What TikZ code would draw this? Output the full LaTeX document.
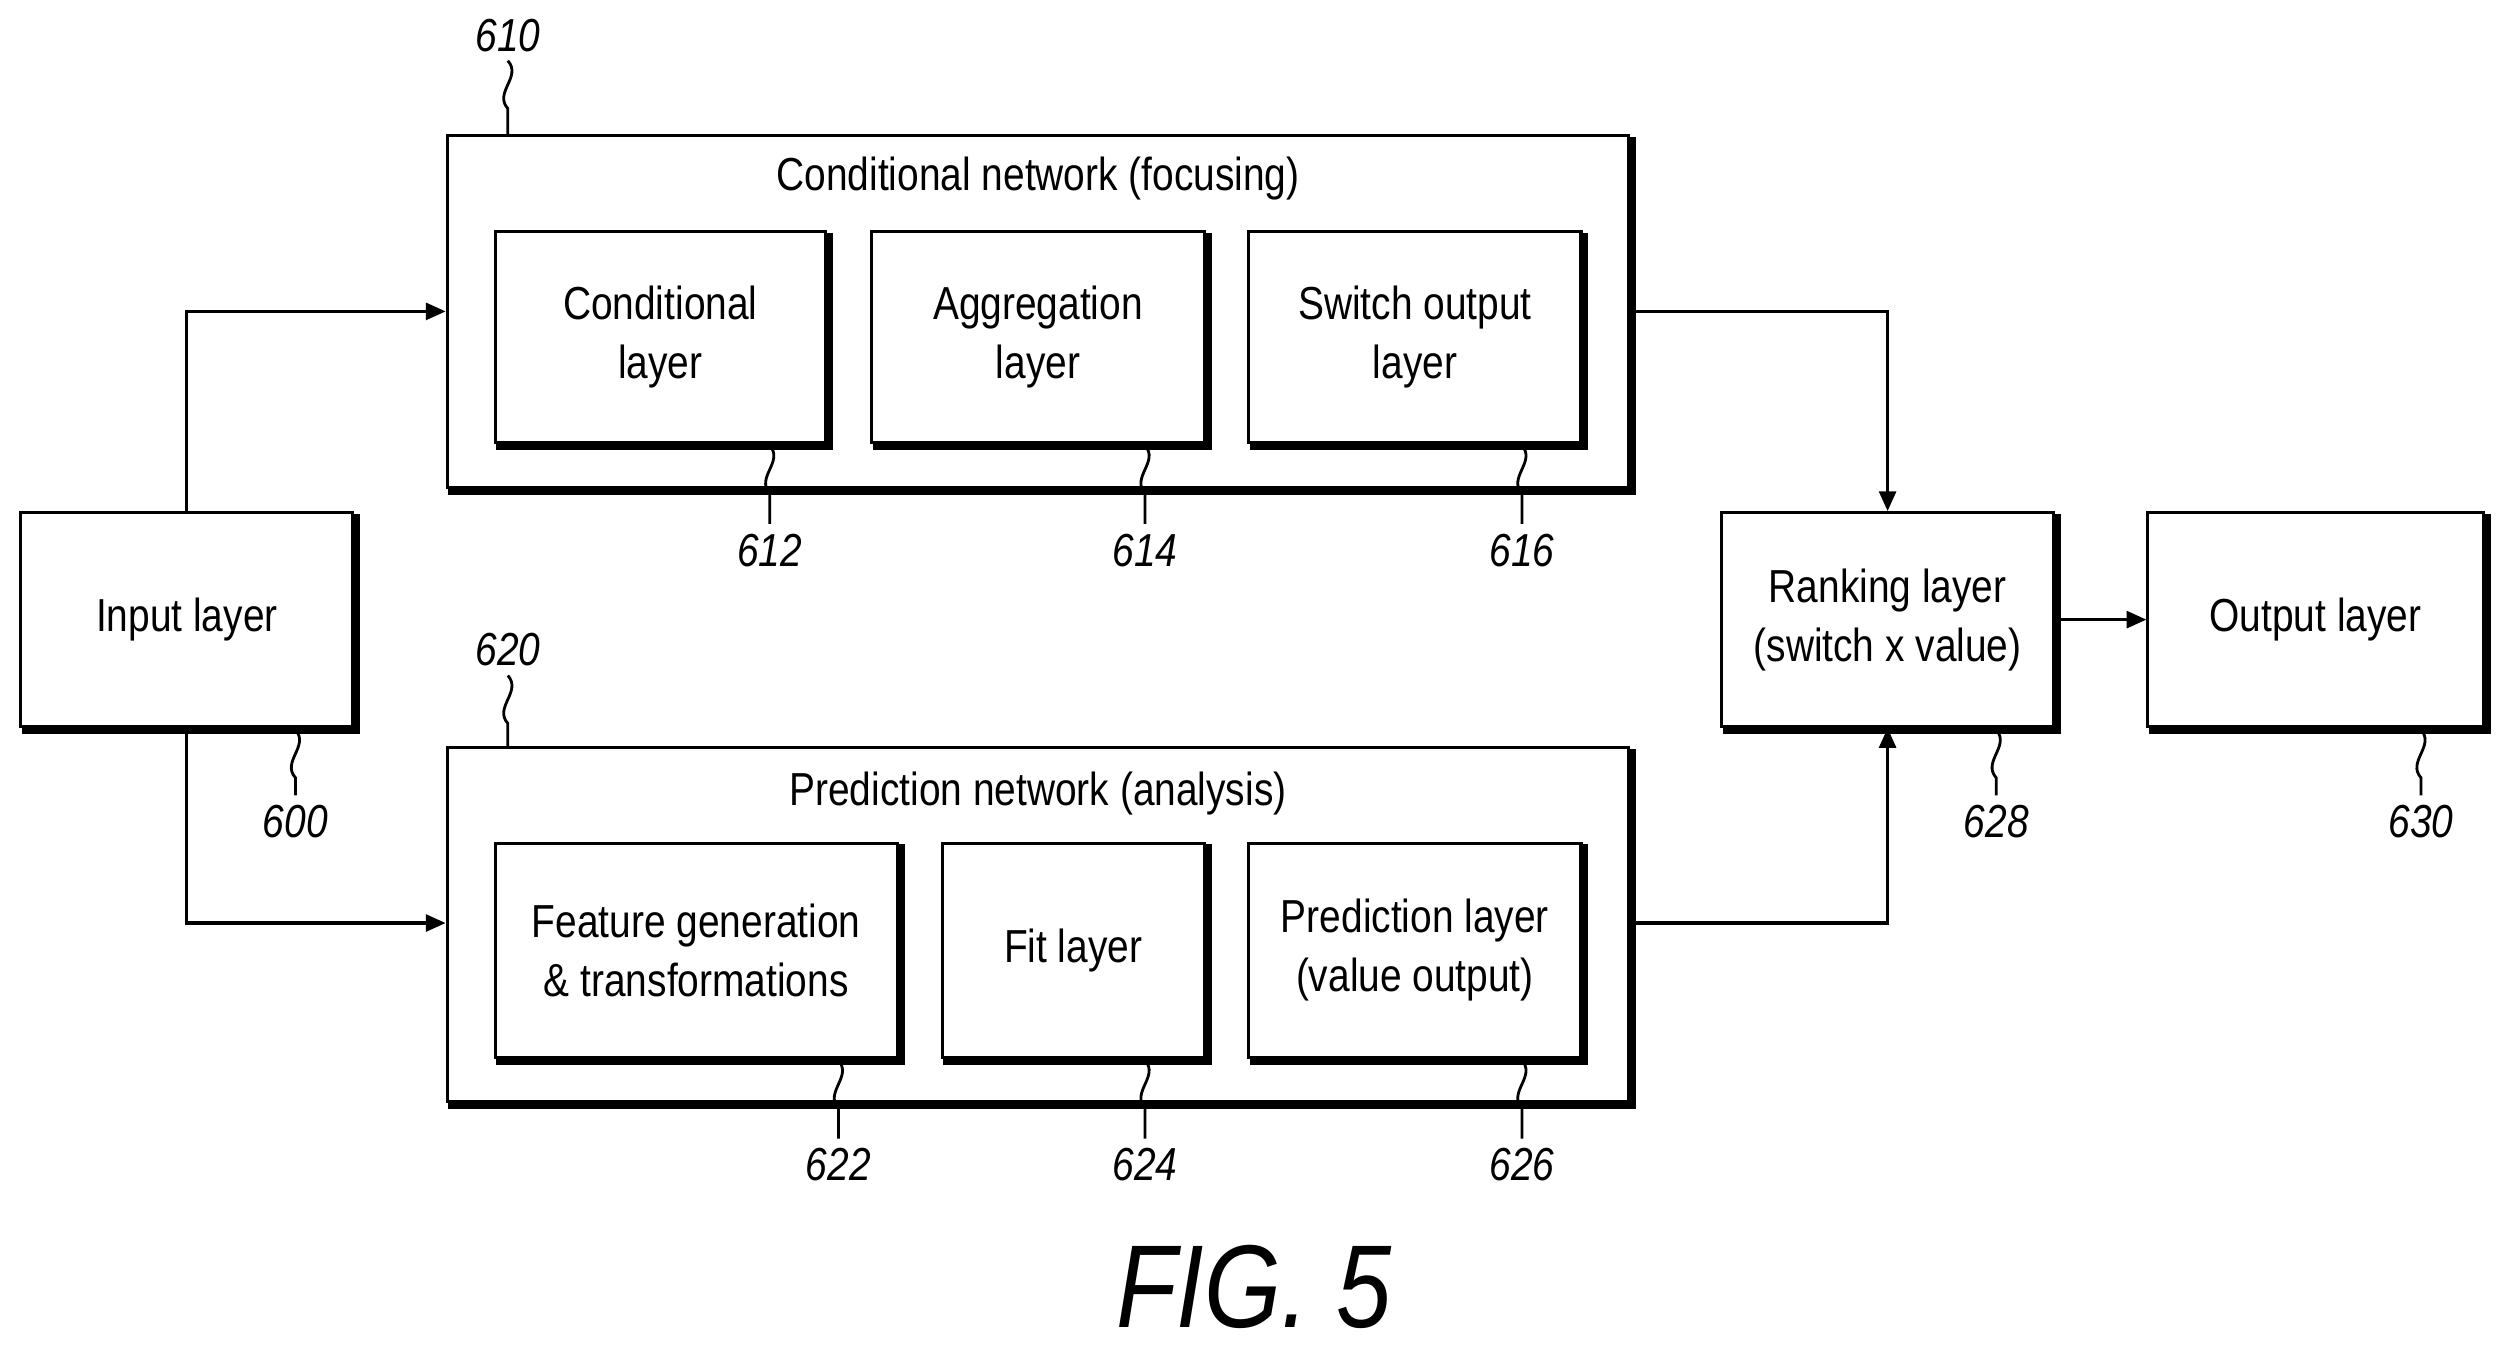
\documentclass[tikz,border=0pt]{standalone}
\usepackage{fontspec}
\setmainfont{Liberation Sans}[FakeStretch=0.84]
\usetikzlibrary{fit,arrows.meta}
\begin{document}
\begin{tikzpicture}[x=0.02cm,y=-0.02cm,
  box/.style={draw,line width=1.1pt,inner sep=0pt},
  txt/.style={align=center,font=\fontsize{16.5}{21}\selectfont},
  num/.style={font=\fontsize{16.5}{20}\selectfont\itshape},
  arr/.style={line width=1.1pt,-{Triangle[length=7pt,width=6pt]}},
  sh/.style={line width=2.2pt},
  lead/.style={line width=1pt}]
\useasboundingbox (0,0) rectangle (1568,848);
\newcommand\mybox[6]{%
  \node[box,fit={(#2,#3)(#4,#5)}] (#1) {};
  \draw[sh] ([xshift=1pt,yshift=-1pt]#1.south west) -- ([xshift=1pt,yshift=-1pt]#1.south east) -- ([xshift=1pt,yshift=-1pt]#1.north east);
  \node[txt] at (#1.center) {#6};}
\newcommand\lead[4]{% x, ytop, ybottom, label
  \draw[lead] (#1,#2) .. controls (#1+9,#2+10) and (#1-9,#2+20) .. (#1,#2+30) -- (#1,#3);
  \node[num,anchor=north] (n#4) at (#1,#3) {#4};}
\mybox{cn}{280}{85}{1020}{305}{}
\node[txt] (cnt) at (650,112) {Conditional network (focusing)};
\mybox{cl}{310}{145}{517}{277}{Conditional\\layer}
\mybox{al}{546}{145}{754}{277}{Aggregation\\layer}
\mybox{sl}{782}{145}{990}{277}{Switch output\\layer}
\mybox{pn}{280}{468}{1020}{690}{}
\node[txt] (pnt) at (650,497) {Prediction network (analysis)};
\mybox{fg}{310}{528}{562}{662}{Feature generation\\\& transformations}
\mybox{fl}{590}{528}{754}{662}{Fit layer}
\mybox{pl}{782}{528}{990}{662}{Prediction layer\\(value output)}
\mybox{in}{13}{321}{221}{455}{Input layer}
\mybox{rk}{1078}{321}{1286}{455}{Ranking layer\\(switch x value)}
\mybox{out}{1345}{321}{1555}{455}{Output layer}
\draw[arr] (in.north) |- (cn.west |- 0,195);
\draw[arr] (in.south) |- (pn.west |- 0,578);
\draw[arr] (cn.east |- 0,195) -| (rk.north);
\draw[arr] (pn.east |- 0,578) -| (rk.south);
\draw[arr] (rk.east |- 0,388) -- (out.west |- 0,388);
\draw[lead] (318,38) .. controls (327,48) and (309,58) .. (318,68) -- (318,85);
\node[num] (n610) at (318,22) {610};
\draw[lead] (318,423) .. controls (327,433) and (309,443) .. (318,453) -- (318,468);
\node[num] (n620) at (318,407) {620};
\lead{482}{279}{328}{612}
\lead{717}{279}{328}{614}
\lead{953}{279}{328}{616}
\lead{185}{457}{498}{600}
\lead{1250}{457}{498}{628}
\lead{1516}{457}{498}{630}
\lead{525}{664}{713}{622}
\lead{717}{664}{713}{624}
\lead{953}{664}{713}{626}
\node[font=\fontsize{42}{48}\selectfont\itshape] (fig) at (785,806) {FIG. 5};
\end{tikzpicture}
\end{document}
